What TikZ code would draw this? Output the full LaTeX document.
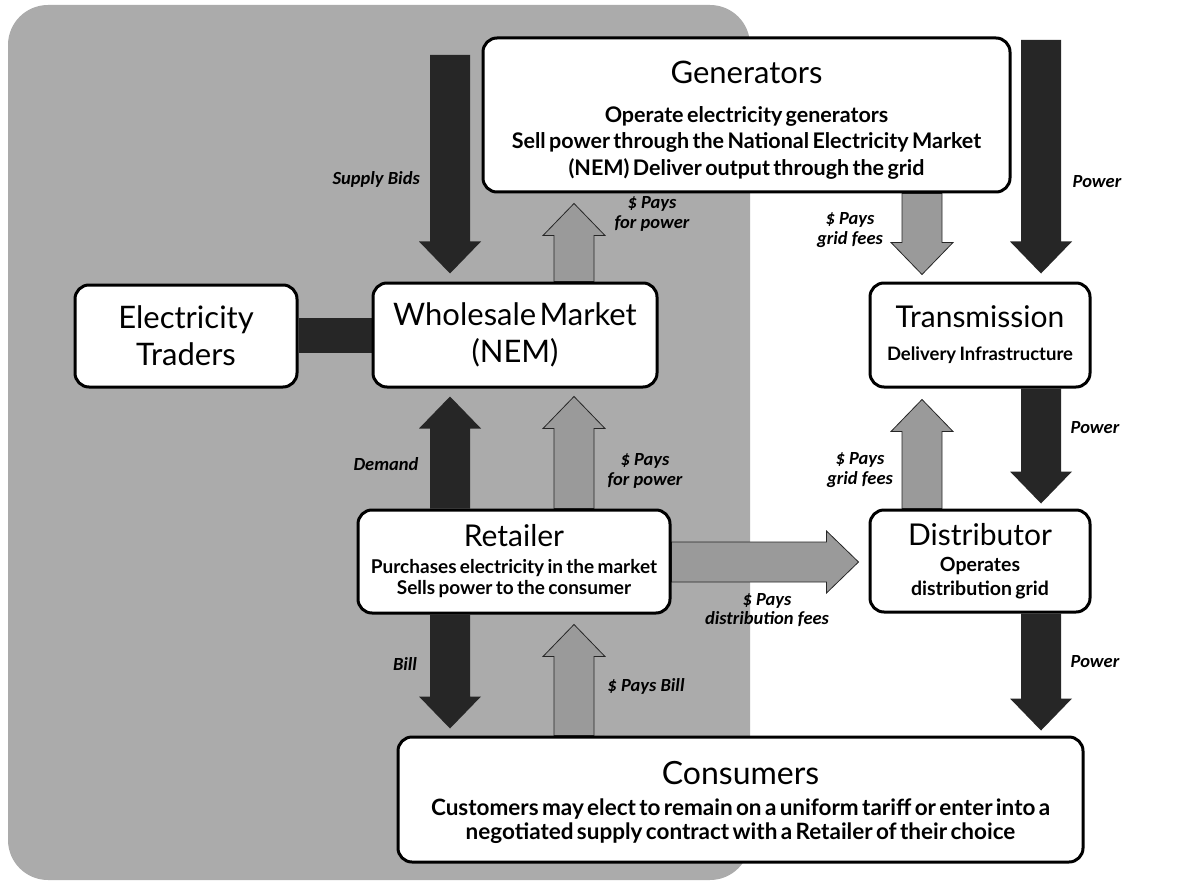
\documentclass[tikz,border=0pt]{standalone}
\usepackage{fontspec}
\setmainfont{Lato}
\newfontfamily\lblfont{Carlito}
\usetikzlibrary{calc,backgrounds}
\definecolor{bggray}{HTML}{ABABAB}
\definecolor{darkarr}{HTML}{262626}
\definecolor{lightarr}{HTML}{9A9A9A}
\newcommand\blockarrow[3]{%
  \path[#1] ($#2!20pt!90:#3$) -- ($#3!32pt!#2!20pt!-90:#2$) -- ($#3!32pt!#2!31pt!-90:#2$) -- #3
    -- ($#3!32pt!#2!31pt!90:#2$) -- ($#3!32pt!#2!20pt!90:#2$) -- ($#2!20pt!-90:#3$) -- cycle;}
\newcommand\ttl[2][31]{{\fontsize{#1}{#1}\selectfont #2\par}}
\newcommand\bodytxt[3]{{\bfseries\fontsize{#1}{#2}\selectfont #3\par}}
\begin{document}
\begin{tikzpicture}[x=1pt,y=-1pt,
  box/.style={draw=black, line width=3pt, fill=white, rounded corners=14pt, align=center, inner sep=0pt},
  darkarrow/.style={fill=darkarr},
  lightarrow/.style={fill=lightarr, draw=black!85, line width=0.8pt},
  lbl/.style={font=\lblfont\bfseries\itshape\fontsize{18.5}{19.5}\selectfont, align=center, inner sep=0pt}]
\useasboundingbox (0,0) rectangle (1182,885);

% boxes
\node[box, minimum width=527pt, minimum height=154pt, text width=515pt] (gen) at (746.5,115)
  {\ttl{\rule{0pt}{33pt}Generators}\vspace{12pt}\bodytxt{21.5}{26.5}{Operate electricity generators\\ Sell power through the National Electricity Market\\ (NEM) Deliver output through the grid}};
\node[box, minimum width=222pt, minimum height=102pt, text width=215pt] (trad) at (186,336)
  {{\fontsize{31}{37}\selectfont Electricity\\ Traders\par}};
\node[box, minimum width=284pt, minimum height=104pt, text width=275pt] (wsm) at (515,335)
  {{\fontsize{31}{37}\selectfont Wholesale Market\\ (NEM)\par}};
\node[box, minimum width=220pt, minimum height=104pt, text width=212pt] (trans) at (980,335)
  {\ttl[30]{Transmission}\vspace{11pt}\bodytxt{18.5}{22}{Delivery Infrastructure}};
\node[box, minimum width=312pt, minimum height=103pt, text width=305pt] (ret) at (514,561.5)
  {\ttl[30]{Retailer}\vspace{6pt}\bodytxt{19}{21}{Purchases electricity in the market\\ Sells power to the consumer}};
\node[box, minimum width=220pt, minimum height=102pt, text width=212pt] (dist) at (980,561)
  {\ttl[30]{Distributor}\vspace{2pt}\bodytxt{19.5}{24}{Operates\\ distribution grid}};
\node[box, minimum width=685pt, minimum height=125pt, text width=675pt] (cons) at (740.5,799.5)
  {\ttl[32]{\rule{0pt}{30pt}Consumers}\vspace{7pt}\bodytxt{22.5}{24}{Customers may elect to remain on a uniform tariff or enter into a\\ negotiated supply contract with a Retailer of their choice}};

% arrow end points
\coordinate (sbA) at (450,55);
\coordinate (sbB) at ($(wsm.north)+(-65,-8)$);
\coordinate (pp1A) at ($(wsm.north)+(59,0)$);
\coordinate (pp1B) at ($(gen.south)+(-172.5,10)$);
\coordinate (pw1A) at (1041,40);
\coordinate (pw1B) at ($(trans.north)+(61,-8)$);
\coordinate (gf1A) at ($(gen.south)+(175.5,0)$);
\coordinate (gf1B) at ($(trans.north)+(-58,-7)$);
\coordinate (pw2A) at ($(trans.south)+(61,0)$);
\coordinate (pw2B) at ($(dist.north)+(61,-5)$);
\coordinate (gf2A) at ($(dist.north)+(-58,0)$);
\coordinate (gf2B) at ($(trans.south)+(-58,11)$);
\coordinate (dmA) at ($(ret.north)+(-64,0)$);
\coordinate (dmB) at ($(wsm.south)+(-65,8)$);
\coordinate (pp2A) at ($(ret.north)+(60,0)$);
\coordinate (pp2B) at ($(wsm.south)+(59,8)$);
\coordinate (dfA) at ($(ret.east)+(0,0.5)$);
\coordinate (dfB) at ($(dist.west)+(-10,1)$);
\coordinate (blA) at ($(ret.south)+(-64,0)$);
\coordinate (blB) at ($(cons.north)+(-290.5,-7)$);
\coordinate (pbA) at ($(cons.north)+(-166.5,0)$);
\coordinate (pbB) at ($(ret.south)+(60,10)$);
\coordinate (pw3A) at ($(dist.south)+(61,0)$);
\coordinate (pw3B) at ($(cons.north)+(300.5,-5)$);

\begin{pgfonlayer}{background}
  \fill[bggray, rounded corners=40pt] (8,5) rectangle (750,880);
  \fill[darkarr] ($(trad.east)+(0,-18)$) rectangle ($(wsm.west)+(0,18)$);
  \blockarrow{darkarrow}{(sbA)}{(sbB)}
  \blockarrow{lightarrow}{(pp1A)}{(pp1B)}
  \blockarrow{darkarrow}{(pw1A)}{(pw1B)}
  \blockarrow{lightarrow}{(gf1A)}{(gf1B)}
  \blockarrow{darkarrow}{(pw2A)}{(pw2B)}
  \blockarrow{lightarrow}{(gf2A)}{(gf2B)}
  \blockarrow{darkarrow}{(dmA)}{(dmB)}
  \blockarrow{lightarrow}{(pp2A)}{(pp2B)}
  \blockarrow{lightarrow}{(dfA)}{(dfB)}
  \blockarrow{darkarrow}{(blA)}{(blB)}
  \blockarrow{lightarrow}{(pbA)}{(pbB)}
  \blockarrow{darkarrow}{(pw3A)}{(pw3B)}
\end{pgfonlayer}

% labels
\node[lbl, anchor=east] (lsb) at (420,179) {Supply Bids};
\node[lbl] (lpp1) at (652,214) {\$ Pays\\for power};
\node[lbl] (lpw1) at (1097,182) {Power};
\node[lbl] (lgf1) at (850,230) {\$ Pays\\grid fees};
\node[lbl] (ldm) at (386,464) {Demand};
\node[lbl] (lpp2) at (645,471) {\$ Pays\\for power};
\node[lbl] (lgf2) at (860,470) {\$ Pays\\grid fees};
\node[lbl] (lpw2) at (1095,428) {Power};
\node[lbl] (ldf) at (767,610) {\$ Pays\\distribution fees};
\node[lbl] (lbl) at (405,664) {Bill};
\node[lbl] (lpb) at (646,686) {\$ Pays Bill};
\node[lbl] (lpw3) at (1095,662) {Power};
\end{tikzpicture}
\end{document}
